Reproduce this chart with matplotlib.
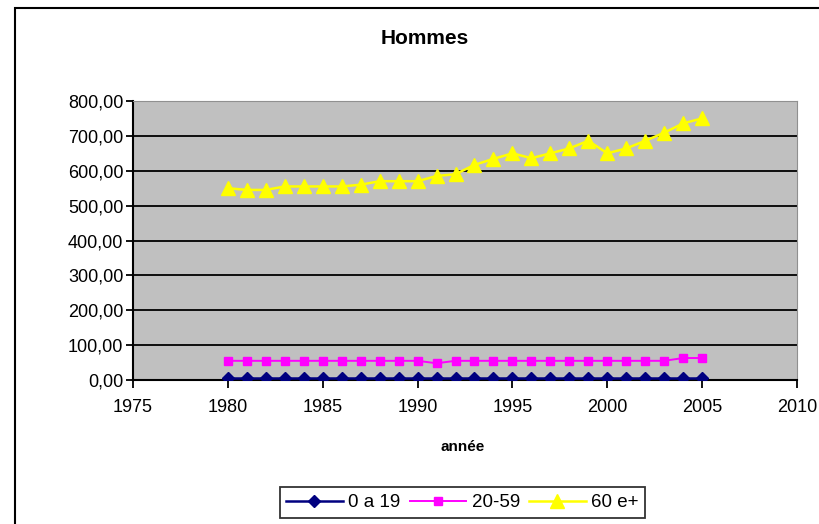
import matplotlib
matplotlib.use("Agg")
import matplotlib.pyplot as plt
from matplotlib.patches import Rectangle
from matplotlib.ticker import FuncFormatter, MultipleLocator

plt.rcParams["font.family"] = ["Liberation Sans", "DejaVu Sans"]

years = list(range(1980, 2006))
age_0_19 = [5] * 26
age_20_59 = [55, 55, 55, 55, 55, 55, 55, 55, 55, 55, 55, 48, 55, 55, 55,
             55, 55, 55, 55, 55, 55, 55, 55, 55, 63, 63]
age_60_plus = [550, 545, 545, 555, 555, 555, 555, 560, 570, 570, 570, 585, 590,
               617, 634, 650, 636, 650, 664, 686, 650, 664, 686, 709, 736, 750]
labels = ["0 a 19", "20-59", "60 e+"]

fig = plt.figure(figsize=(8.2, 5.24), dpi=100)
# outer chart frame (right and bottom edges fall outside the image)
fig.patches.append(Rectangle((15 / 820, -0.05), 1.1, 1 - 8 / 524 + 0.05,
                             transform=fig.transFigure, fill=False,
                             edgecolor="black", linewidth=1.5))
ax = fig.add_axes([133 / 820, 1 - 380 / 524, (797 - 133) / 820, (380 - 101) / 524])
ax.set_facecolor("#c0c0c0")

ax.plot(years, age_0_19, color="#000080", marker="D", markersize=6.5, linewidth=1.8,
        label=labels[0], zorder=4)
ax.plot(years, age_20_59, color="#ff00ff", marker="s", markersize=5.5, linewidth=1.4,
        label=labels[1], zorder=3)
ax.plot(years, age_60_plus, color="#ffff00", marker="^", markersize=9.5, linewidth=1.8,
        label=labels[2], zorder=3)

ax.set_xlim(1975, 2010)
ax.set_ylim(0, 800)
ax.xaxis.set_major_locator(MultipleLocator(5))
ax.yaxis.set_major_locator(MultipleLocator(100))
ax.yaxis.set_major_formatter(FuncFormatter(lambda v, p: f"{v:.2f}".replace(".", ",")))
ax.grid(axis="y", color="black", linewidth=1.3)
ax.set_axisbelow(True)
for side in ("top", "right"):
    ax.spines[side].set_color("#909090")
for side in ("left", "bottom"):
    ax.spines[side].set_linewidth(1.5)
ax.tick_params(axis="y", labelsize=13, length=5, width=1.3, pad=2)
ax.tick_params(axis="x", labelsize=13, length=6, width=1.3, pad=8)

fig.text(0.518, 0.927, "Hommes", ha="center", va="center", fontsize=15,
         fontweight="bold")
fig.text(0.564, 0.147, "année", ha="center", va="center", fontsize=11,
         fontweight="bold")

leg = fig.legend(loc="center", bbox_to_anchor=(0.564, 0.041), ncol=3, fontsize=13.5,
                 frameon=True, fancybox=False, edgecolor="black", handlelength=3.0,
                 columnspacing=0.5, handletextpad=0.3, borderpad=0.35)
leg.get_frame().set_linewidth(1.3)

fig.savefig("out.png", dpi=100)
